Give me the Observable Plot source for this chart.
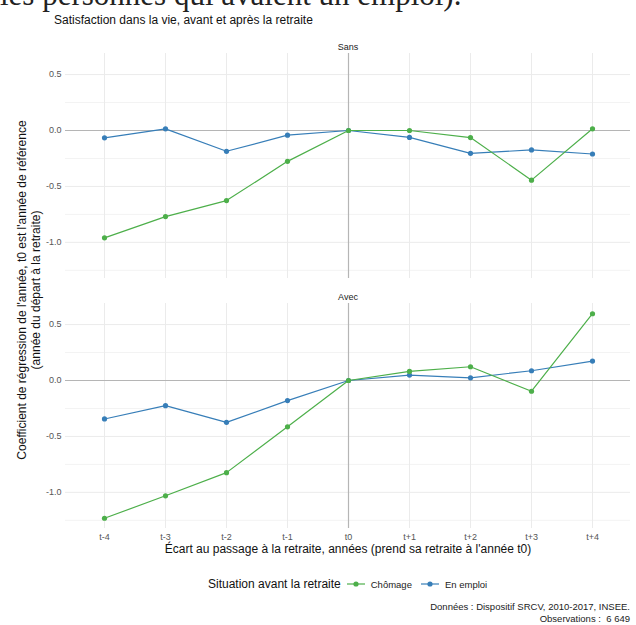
<!DOCTYPE html>
<html>
<head>
<meta charset="utf-8">
<script src="https://cdn.jsdelivr.net/npm/d3@7"></script>
<script src="https://cdn.jsdelivr.net/npm/@observablehq/plot@0.6"></script>
<style>
  html, body { margin: 0; padding: 0; background: #fff; }
  body { width: 636px; height: 625px; position: relative; overflow: hidden; font-family: "Liberation Sans", Arial, sans-serif; }
  .abs { position: absolute; white-space: nowrap; }
  #heading { left: 0; top: -21px; font-family: "Liberation Serif", serif; font-size: 31px; color: #222; line-height: 1; }
  #title { left: 54px; top: 13px; font-size: 12px; color: #111; }
  #chart { position: absolute; left: 0; top: 0; }
  #xtitle { left: 348px; top: 542px; transform: translateX(-50%); font-size: 12px; color: #111; }
  #ytitle { left: 29px; top: 290px; transform: translate(-50%, -50%) rotate(-90deg); font-size: 12px; color: #111; text-align: center; line-height: 14px; }
  #legend { left: 208px; top: 577px; font-size: 12px; color: #111; display: flex; align-items: center; }
  #legend .key { display: inline-block; margin: 0 6px 0 5px; }
  #legend .lab { font-size: 9.5px; color: #222; margin-right: 4px; }
  #caption { right: 6px; top: 601px; font-size: 9.5px; color: #222; text-align: right; line-height: 12px; }
</style>
</head>
<body>
<div id="heading" class="abs">les personnes qui avaient un emploi).</div>
<div id="title" class="abs">Satisfaction dans la vie, avant et après la retraite</div>
<div id="chart"></div>
<div id="xtitle" class="abs">Écart au passage à la retraite, années (prend sa retraite à l'année t0)</div>
<div id="ytitle" class="abs">Coefficient de régression de l'année, t0 est l'année de référence<br>(année du départ à la retraite)</div>
<div id="legend" class="abs"></div>
<div id="caption" class="abs">Données : Dispositif SRCV, 2010-2017, INSEE.<br>Observations :&nbsp; 6 649</div>
<script>
const periods = ["t-4","t-3","t-2","t-1","t0","t+1","t+2","t+3","t+4"];
const facets = ["Sans","Avec"];
const seriesNames = ["Chômage","En emploi"];
const seriesColors = ["#4DAF4A","#377EB8"];

const sansChomage = [-0.96, -0.77, -0.627, -0.276, 0, 0.0, -0.063, -0.444, 0.015];
const sansEmploi  = [-0.066, 0.015, -0.186, -0.042, 0, -0.062, -0.204, -0.174, -0.21];
const avecChomage = [-1.232, -1.031, -0.824, -0.414, 0, 0.081, 0.123, -0.096, 0.597];
const avecEmploi  = [-0.344, -0.225, -0.374, -0.18, 0, 0.048, 0.024, 0.087, 0.174];

const yMajor = [-1, -0.5, 0, 0.5];
const yMinor = [-1.25, -0.75, -0.25, 0.25];

function rows(values, facet, series) {
  return values.map((v, i) => ({period: periods[i], value: v, facet, series}));
}
const emploi = [...rows(sansEmploi, "Sans", "En emploi"), ...rows(avecEmploi, "Avec", "En emploi")];
const chomage = [...rows(sansChomage, "Sans", "Chômage"), ...rows(avecChomage, "Avec", "Chômage")];
const all = [...emploi, ...chomage];
const ext = d3.extent(all, d => d.value);
const pad = (ext[1] - ext[0]) * 0.05;

const chart = Plot.plot({
  width: 636,
  height: 556,
  marginTop: 53,
  marginBottom: 28,
  marginLeft: 65,
  marginRight: 6,
  style: {fontFamily: "Liberation Sans, Arial, sans-serif", fontSize: "9px", color: "#555", background: "transparent"},
  x: {type: "point", domain: periods, padding: 0.6, tickSize: 0, tickPadding: 5, label: null},
  y: {domain: [ext[0] - pad, ext[1] + pad], ticks: yMajor, tickFormat: d => d.toFixed(1), tickSize: 0, tickPadding: 4, label: null},
  fy: {domain: facets, padding: 0.1, axis: null, label: null},
  color: {domain: seriesNames, range: seriesColors},
  marks: [
    Plot.ruleY(yMinor, {stroke: "#f3f3f3", strokeWidth: 1}),
    Plot.ruleY(yMajor.filter(d => d !== 0), {stroke: "#ebebeb", strokeWidth: 1}),
    Plot.ruleX(periods, {stroke: "#ebebeb", strokeWidth: 1}),
    Plot.ruleY([0], {stroke: "#b5b5b5", strokeWidth: 1.2}),
    Plot.ruleX(["t0"], {stroke: "#b5b5b5", strokeWidth: 1.2}),
    Plot.line(emploi, {x: "period", y: "value", fy: "facet", stroke: "series", strokeWidth: 1.2}),
    Plot.dot(emploi, {x: "period", y: "value", fy: "facet", fill: "series", r: 2.6}),
    Plot.line(chomage, {x: "period", y: "value", fy: "facet", stroke: "series", strokeWidth: 1.2}),
    Plot.dot(chomage, {x: "period", y: "value", fy: "facet", fill: "series", r: 2.6}),
    Plot.text(facets, {fy: d => d, text: d => d, frameAnchor: "top", dy: -10, fontSize: 9, fill: "#222"})
  ]
});
document.getElementById("chart").appendChild(chart);

const legend = document.getElementById("legend");
const lt = document.createElement("span");
lt.textContent = "Situation avant la retraite";
lt.style.marginRight = "1px";
legend.appendChild(lt);
seriesNames.forEach((name, i) => {
  const key = document.createElementNS("http://www.w3.org/2000/svg", "svg");
  key.setAttribute("width", 18); key.setAttribute("height", 10);
  key.classList.add("key");
  key.innerHTML = `<line x1="0" x2="18" y1="5" y2="5" stroke="${seriesColors[i]}" stroke-width="1.2"/><circle cx="9" cy="5" r="2.6" fill="${seriesColors[i]}"/>`;
  legend.appendChild(key);
  const lab = document.createElement("span");
  lab.className = "lab";
  lab.textContent = name;
  legend.appendChild(lab);
});
</script>
</body>
</html>
